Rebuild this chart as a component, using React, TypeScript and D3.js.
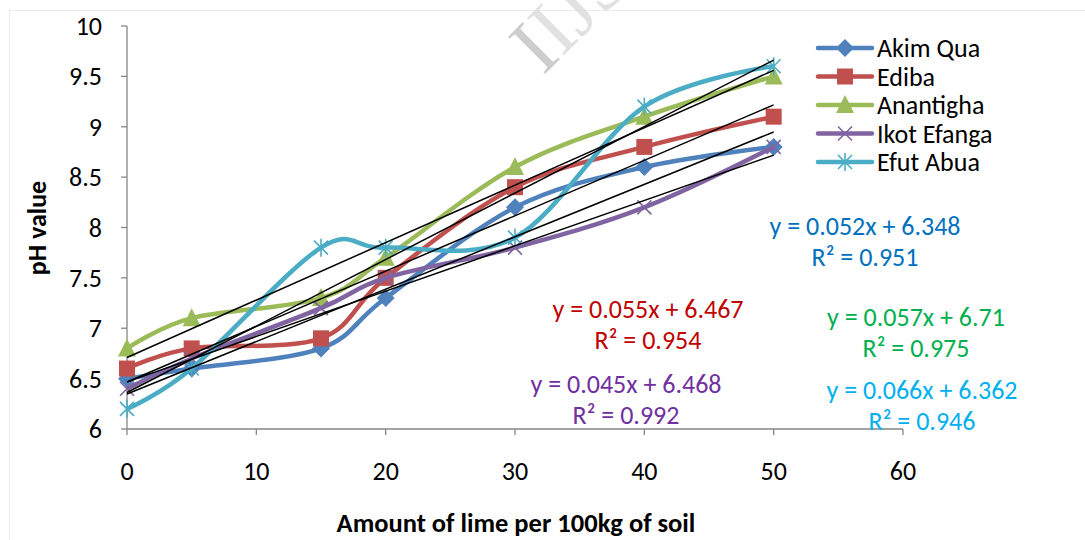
import React from "react";
import * as d3 from "d3";

// Lime application (kg per 100 kg of soil) and measured soil pH per site
const limeAmounts = [0, 5, 15, 20, 30, 40, 50];
const akimQua = [6.5, 6.6, 6.8, 7.3, 8.2, 8.6, 8.8];
const ediba = [6.6, 6.8, 6.9, 7.5, 8.4, 8.8, 9.1];
const anantigha = [6.8, 7.1, 7.3, 7.7, 8.6, 9.1, 9.5];
const ikotEfanga = [6.4, 6.7, 7.2, 7.5, 7.8, 8.2, 8.8];
const efutAbua = [6.2, 6.6, 7.8, 7.8, 7.9, 9.2, 9.6];

const siteNames = ["Akim Qua", "Ediba", "Anantigha", "Ikot Efanga", "Efut Abua"];
// Linear fit for each site: slope, intercept, R²
const fitSlopes = [0.052, 0.055, 0.057, 0.045, 0.066];
const fitIntercepts = [6.348, 6.467, 6.71, 6.468, 6.362];
const fitR2 = ["0.951", "0.954", "0.975", "0.992", "0.946"];
const fitInterceptLabels = ["6.348", "6.467", "6.71", "6.468", "6.362"];

const xTicks = [0, 10, 20, 30, 40, 50, 60];
const yTicks = [6, 6.5, 7, 7.5, 8, 8.5, 9, 9.5, 10];

const lineColors = ["#4F81BD", "#C0504D", "#9BBB59", "#8064A2", "#4BACC6"];
const eqColors = ["#0070C0", "#C00000", "#00B050", "#7030A0", "#00B0F0"];
const markerShapes = ["diamond", "square", "triangle", "x", "star"];
// equation label anchor (center x, first-line y)
const eqPos: [number, number][] = [
  [865, 226],
  [648, 309],
  [916, 317],
  [626, 384],
  [922, 390],
];

const FONT = "Carlito, Calibri, Lato, 'Open Sans', sans-serif";

function Marker({ shape, color, x, y }: { shape: string; color: string; x: number; y: number }) {
  if (shape === "diamond") {
    const s = 9;
    return <path d={`M${x},${y - s}L${x + s},${y}L${x},${y + s}L${x - s},${y}Z`} fill={color} />;
  }
  if (shape === "square") {
    const s = 8;
    return <rect x={x - s} y={y - s} width={2 * s} height={2 * s} fill={color} />;
  }
  if (shape === "triangle") {
    const s = 9;
    return <path d={`M${x},${y - s - 1}L${x + s},${y + s - 1}L${x - s},${y + s - 1}Z`} fill={color} />;
  }
  if (shape === "x") {
    const s = 7;
    return (
      <path
        d={`M${x - s},${y - s}L${x + s},${y + s}M${x - s},${y + s}L${x + s},${y - s}`}
        stroke={color}
        strokeWidth={1.6}
        fill="none"
      />
    );
  }
  const s = 7;
  return (
    <path
      d={`M${x - s},${y - s}L${x + s},${y + s}M${x - s},${y + s}L${x + s},${y - s}M${x},${y - s - 2}L${x},${y + s + 2}`}
      stroke={color}
      strokeWidth={1.6}
      fill="none"
    />
  );
}

export default function App() {
  const width = 1085;
  const height = 540;
  const x = d3.scaleLinear().domain([0, 60]).range([127, 903]);
  const y = d3.scaleLinear().domain([6, 10]).range([429, 26]);
  const series = [akimQua, ediba, anantigha, ikotEfanga, efutAbua];

  const line = d3
    .line<[number, number]>()
    .x((d) => x(d[0]))
    .y((d) => y(d[1]))
    .curve(d3.curveCardinal.tension(0));

  const axisColor = "#868686";

  return (
    <svg
      width={width}
      height={height}
      style={{ position: "absolute", left: 0, top: 0, background: "#fff" }}
      fontFamily={FONT}
    >
      <rect x={9.5} y={10.5} width={1200} height={600} fill="#fff" stroke="#ebebeb" strokeWidth={1} />

      {/* watermark */}
      <text
        x={0}
        y={0}
        transform="translate(543,76) rotate(-45)"
        fontFamily="'Liberation Serif', 'DejaVu Serif', serif"
        fontSize={80}
        fill="#c8c8c8"
        opacity={0.9}
      >
        <tspan>I</tspan>
        <tspan fill="#dedede">IJSER</tspan>
      </text>

      {/* axes */}
      <line x1={127} x2={127} y1={y(10)} y2={y(6)} stroke={axisColor} strokeWidth={1.3} />
      <line x1={127} x2={x(60)} y1={y(6)} y2={y(6)} stroke={axisColor} strokeWidth={1.3} />
      {yTicks.map((t) => (
        <g key={"y" + t}>
          <line x1={121} x2={127} y1={y(t)} y2={y(t)} stroke={axisColor} strokeWidth={1.3} />
          <text x={102} y={y(t)} dy="0.35em" textAnchor="end" fontSize={26} fill="#000">
            {t}
          </text>
        </g>
      ))}
      {xTicks.map((t) => (
        <g key={"x" + t}>
          <line x1={x(t)} x2={x(t)} y1={y(6)} y2={y(6) + 6} stroke={axisColor} strokeWidth={1.3} />
          <text x={x(t)} y={471} dy="0.35em" textAnchor="middle" fontSize={26} fill="#000">
            {t}
          </text>
        </g>
      ))}

      <text
        transform="translate(37,228) rotate(-90)"
        textAnchor="middle"
        dy="0.35em"
        fontSize={26}
        fontWeight="bold"
        fill="#000"
      >
        pH value
      </text>
      <text x={516} y={523} dy="0.35em" textAnchor="middle" fontSize={26.5} fontWeight="bold" fill="#000">
        Amount of lime per 100kg of soil
      </text>

      {/* smoothed series with markers */}
      {series.map((vals, i) => {
        const pts = limeAmounts.map((a, j) => [a, vals[j]] as [number, number]);
        return (
          <g key={"s" + i}>
            <path d={line(pts) || ""} fill="none" stroke={lineColors[i]} strokeWidth={4.5} strokeLinejoin="round" />
            {pts.map((p, j) => (
              <Marker key={j} shape={markerShapes[i]} color={lineColors[i]} x={x(p[0])} y={y(p[1])} />
            ))}
          </g>
        );
      })}

      {/* linear trendlines */}
      {fitSlopes.map((m, i) => (
        <line
          key={"t" + i}
          x1={x(0)}
          y1={y(fitIntercepts[i])}
          x2={x(50)}
          y2={y(fitIntercepts[i] + m * 50)}
          stroke="#000"
          strokeWidth={1.5}
        />
      ))}

      {/* legend */}
      {siteNames.map((name, i) => {
        const ly = 48 + i * 28.5;
        return (
          <g key={"l" + i}>
            <line x1={818} x2={872} y1={ly} y2={ly} stroke={lineColors[i]} strokeWidth={4.5} strokeLinecap="round" />
            <Marker shape={markerShapes[i]} color={lineColors[i]} x={845} y={ly} />
            <text x={877} y={ly} dy="0.35em" fontSize={26} fill="#000">
              {name}
            </text>
          </g>
        );
      })}

      {/* trendline equations */}
      {fitSlopes.map((m, i) => (
        <g key={"e" + i} fill={eqColors[i]} fontSize={26} textAnchor="middle">
          <text x={eqPos[i][0]} y={eqPos[i][1]} dy="0.35em">
            {`y = ${m.toFixed(3)}x + ${fitInterceptLabels[i]}`}
          </text>
          <text x={eqPos[i][0]} y={eqPos[i][1] + 31} dy="0.35em">
            {`R² = ${fitR2[i]}`}
          </text>
        </g>
      ))}
    </svg>
  );
}
